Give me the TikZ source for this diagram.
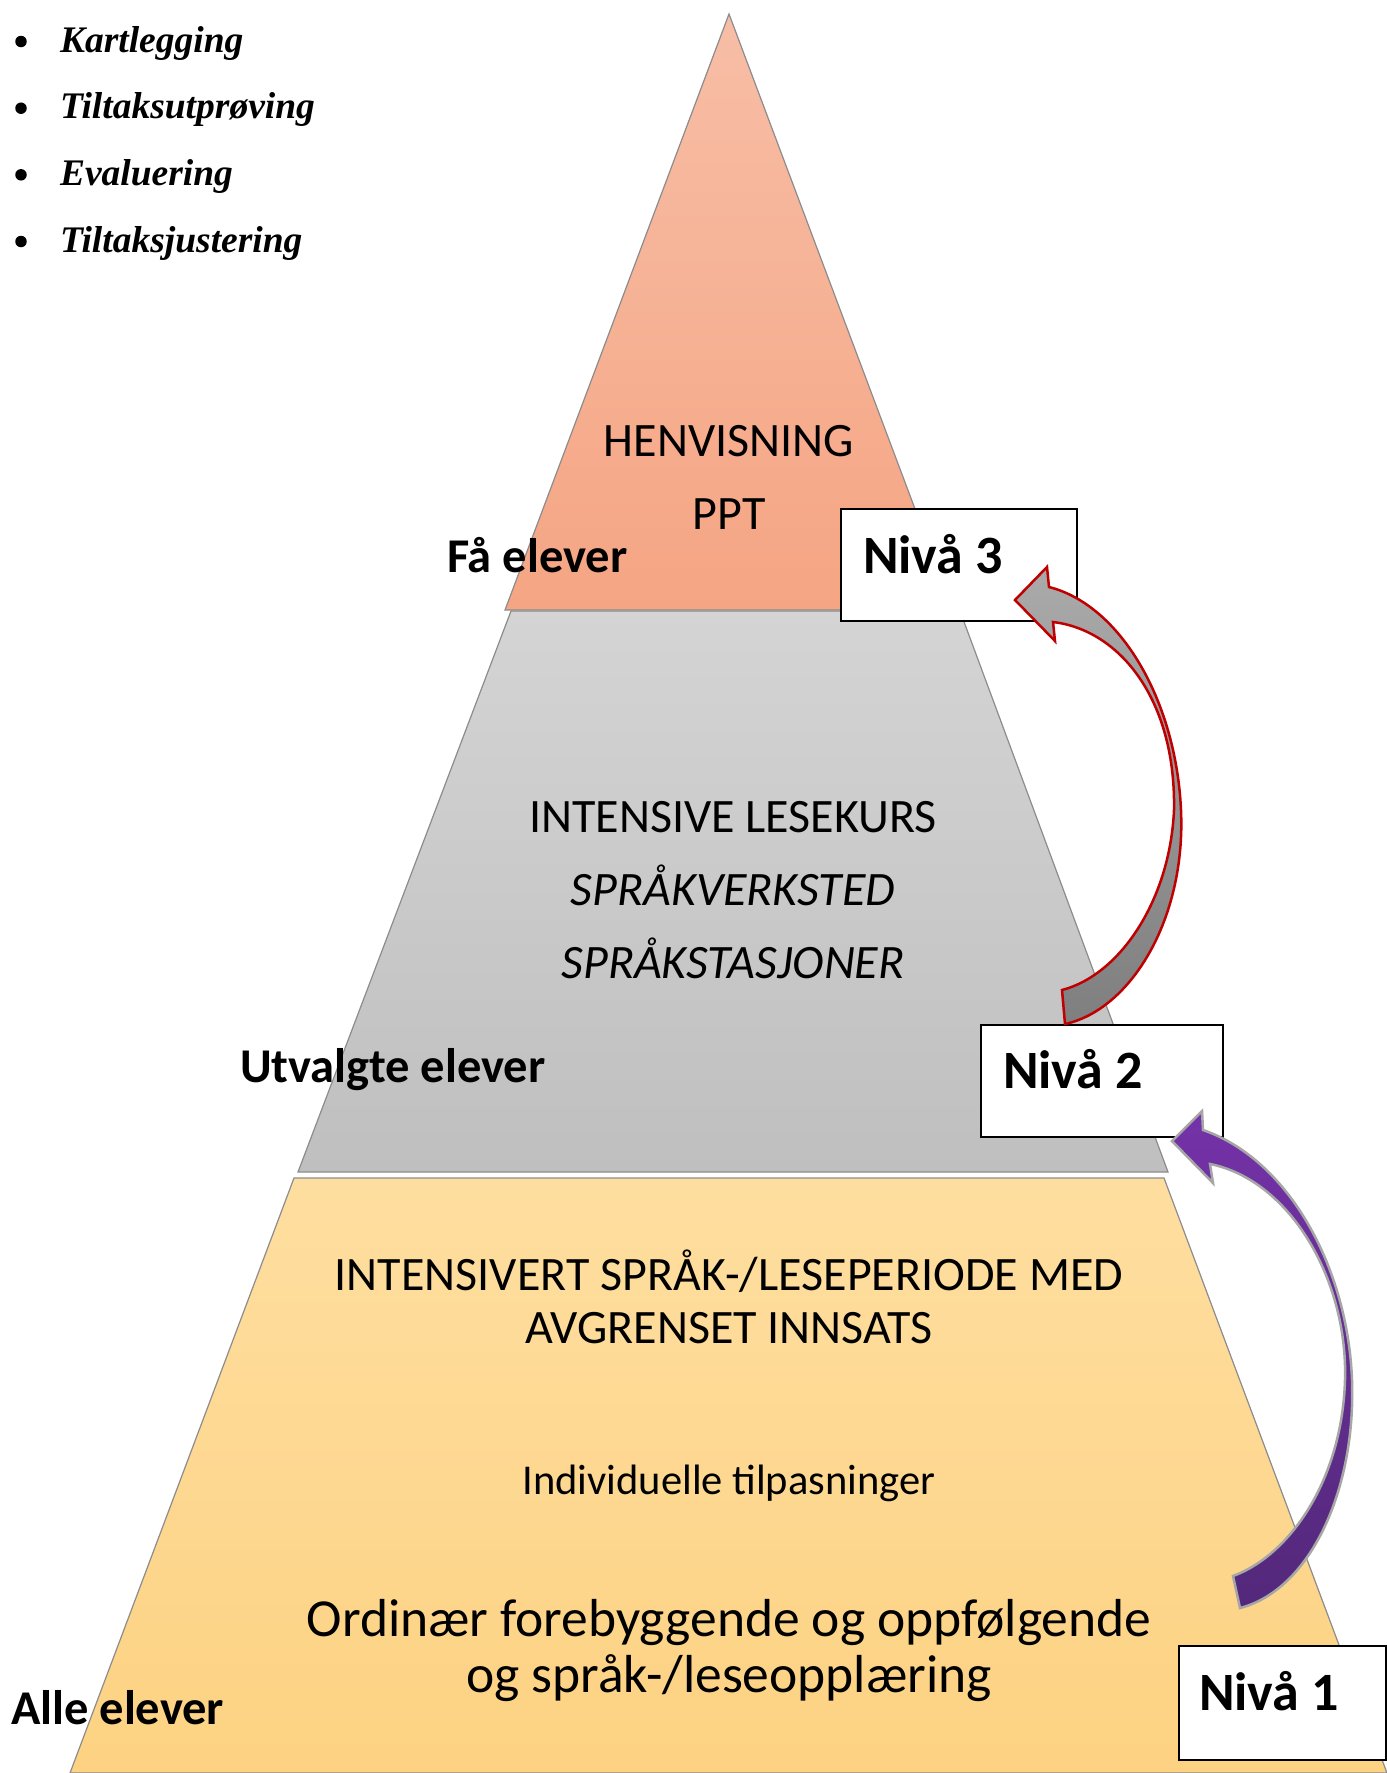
\documentclass[tikz,border=0pt]{standalone}
\usepackage{fontspec}
\setmainfont{Carlito}
\newfontfamily\bulletfont{Liberation Serif}
\definecolor{edgegray}{HTML}{8C8C8C}
\definecolor{topA}{HTML}{F7BEA6}
\definecolor{topB}{HTML}{F5A583}
\definecolor{midA}{HTML}{D4D4D4}
\definecolor{midB}{HTML}{BFBFBF}
\definecolor{lowA}{HTML}{FEDEA0}
\definecolor{lowB}{HTML}{FDD282}
\definecolor{arrred}{HTML}{C00000}
\definecolor{grayA}{HTML}{AAAAAA}
\definecolor{grayB}{HTML}{7F7F7F}
\definecolor{purA}{HTML}{7432A8}
\definecolor{purB}{HTML}{53287A}
\definecolor{purEdge}{HTML}{A6A6A6}
\begin{document}
\begin{tikzpicture}[x=1pt,y=-1pt,
  every node/.style={inner sep=0pt, outer sep=0pt},
  tier/.style={draw=edgegray, line width=1.2pt},
  maintxt/.style={font=\fontsize{48}{57}\selectfont, anchor=base},
  italtxt/.style={font=\fontsize{48}{57}\selectfont\itshape, anchor=base},
  sidelbl/.style={font=\fontsize{48.5}{57}\selectfont\bfseries, anchor=base west},
  nivlbl/.style={font=\fontsize{54}{62}\selectfont\bfseries, anchor=base west},
  nivbox/.style={draw=black, line width=2pt, fill=white, anchor=north west},
  bulletitem/.style={font=\bulletfont\fontsize{37.5}{45}\selectfont\bfseries\itshape, anchor=base west},
  bulletdot/.style={circle, fill=black, minimum size=11.5pt},
  bigarrow/.style={line width=2.5pt, line join=miter}
]
\useasboundingbox (0,0) rectangle (1387,1773);

% pyramid tiers
\path[tier, top color=lowA, bottom color=lowB] (294,1178) -- (1164,1178) -- (1387,1773) -- (70,1773) -- cycle;
\path[tier, top color=midA, bottom color=midB] (511,611) -- (960,611) -- (1168,1172) -- (298,1172) -- cycle;
\path[tier, top color=topA, bottom color=topB] (729,14) -- (953,610) -- (505,610) -- cycle;

% bullet list
\node[bulletdot] (d1) at (21,41.5) {};
\node[bulletitem] (t1) at (60,52) {Kartlegging};
\node[bulletdot] (d2) at (21,108.2) {};
\node[bulletitem] (t2) at (60,118.7) {Tiltaksutprøving};
\node[bulletdot] (d3) at (21,174.8) {};
\node[bulletitem] (t3) at (60,185.3) {Evaluering};
\node[bulletdot] (d4) at (21,241.5) {};
\node[bulletitem] (t4) at (60,252) {Tiltaksjustering};

% tier texts
\node[maintxt] (henv) at (729,456) {HENVISNING};
\node[maintxt] (ppt) at (729,529) {PPT};
\node[maintxt] (intk) at (733,832) {INTENSIVE LESEKURS};
\node[italtxt] (sverk) at (733,905) {SPRÅKVERKSTED};
\node[italtxt] (sstas) at (733,978) {SPRÅKSTASJONER};
\node[maintxt] (intv1) at (729,1290) {INTENSIVERT SPRÅK-/LESEPERIODE MED};
\node[maintxt] (intv2) at (729,1343) {AVGRENSET INNSATS};
\node[font=\fontsize{42.5}{50}\selectfont, anchor=base] (indiv) at (729,1494) {Individuelle tilpasninger};
\node[font=\fontsize{53.5}{62}\selectfont, anchor=base] (ord1) at (729,1636) {Ordinær forebyggende og oppfølgende};
\node[font=\fontsize{53.5}{62}\selectfont, anchor=base] (ord2) at (729,1692) {og språk-/leseopplæring};

% side labels
\node[sidelbl] (fa) at (447,572) {Få elever};
\node[sidelbl] (utv) at (240,1082) {Utvalgte elever};
\node[sidelbl] (alle) at (11,1724) {Alle elever};

% level boxes
\node[nivbox, minimum width=236pt, minimum height=112pt] (b3) at (841,509) {};
\node[nivlbl] (n3) at (863,573) {Nivå 3};
\node[nivbox, minimum width=242pt, minimum height=112pt] (b2) at (981,1025) {};
\node[nivlbl] (n2) at (1003,1088) {Nivå 2};
\node[nivbox, minimum width=207pt, minimum height=114pt] (b1) at (1179,1646) {};
\node[nivlbl] (n1) at (1199,1710) {Nivå 1};

% curved arrow level 2 -> level 3
\path[bigarrow, draw=arrred, top color=grayA, bottom color=grayB]
  (1015,600) -- (1047,567) -- (1049,587)
  .. controls (1120,605) and (1176,700) .. (1181,810)
  .. controls (1186,920) and (1130,1010) .. (1065,1024)
  -- (1062,990)
  .. controls (1120,975) and (1170,900) .. (1174,810)
  .. controls (1176,700) and (1120,630) .. (1053,622)
  -- (1055,641) -- cycle;

% curved arrow level 1 -> level 2
\path[bigarrow, draw=purEdge, top color=purA, bottom color=purB]
  (1172,1141) -- (1202,1111) -- (1203,1130)
  .. controls (1290,1160) and (1348,1270) .. (1352,1380)
  .. controls (1356,1490) and (1310,1590) .. (1240,1608)
  -- (1233,1576)
  .. controls (1290,1555) and (1342,1480) .. (1345,1380)
  .. controls (1348,1280) and (1290,1180) .. (1210,1164)
  -- (1213,1183) -- cycle;
\end{tikzpicture}
\end{document}
